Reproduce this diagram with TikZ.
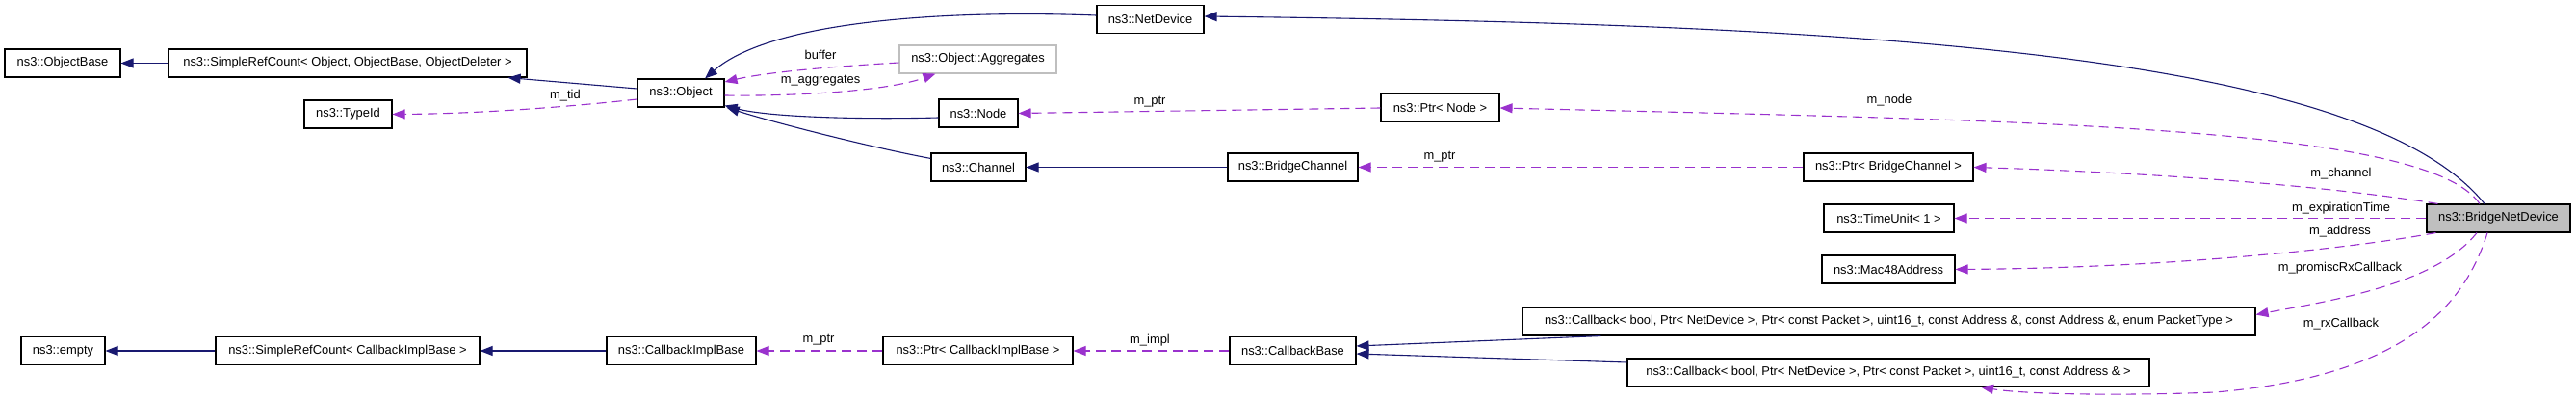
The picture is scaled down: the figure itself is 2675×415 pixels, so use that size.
\documentclass[tikz,border=0pt]{standalone}
\usepackage{fontspec}
\setmainfont{Liberation Sans}
\usetikzlibrary{arrows.meta}
\definecolor{inh}{HTML}{191970}
\definecolor{use}{HTML}{9A32CD}
\definecolor{boxfill}{HTML}{BFBFBF}
\definecolor{grayedge}{HTML}{BFBFBF}
\begin{document}
\begin{tikzpicture}[x=1pt,y=-1pt,font=\fontsize{12.9}{15}\selectfont,
  cls/.style={draw=black,line width=1.1pt,fill=white,minimum height=29pt,inner sep=0pt,anchor=center},
  inhline/.style={draw=inh,line width=1.1pt,-{Triangle[length=13pt,width=10pt]}},
  useline/.style={draw=use,line width=1.1pt,dash pattern=on 10pt off 6pt,-{Triangle[length=13pt,width=10pt]}},
  lbl/.style={inner sep=1pt,anchor=center}]
\useasboundingbox (0,0) rectangle (2675,415);
% nodes
\node[cls,minimum width=120pt] (ob) at (65,65.5) {ns3::ObjectBase};
\node[cls,minimum width=372pt] (src1) at (361,65.5) {ns3::SimpleRefCount< Object, ObjectBase, ObjectDeleter >};
\node[cls,minimum width=91pt] (tid) at (361.5,118.5) {ns3::TypeId};
\node[cls,minimum width=90pt] (obj) at (707,96.5) {ns3::Object};
\node[cls,minimum width=111pt] (nd) at (1194.5,20) {ns3::NetDevice};
\node[cls,draw=grayedge,minimum width=163pt] (agg) at (1015.5,61.5) {ns3::Object::Aggregates};
\node[cls,minimum width=82pt] (node) at (1016,117.5) {ns3::Node};
\node[cls,minimum width=123pt] (pnode) at (1495.5,112) {ns3::Ptr< Node >};
\node[cls,minimum width=98pt] (chan) at (1016,173.5) {ns3::Channel};
\node[cls,minimum width=135pt] (bch) at (1342.5,173.5) {ns3::BridgeChannel};
\node[cls,minimum width=176pt] (pbch) at (1961,173.5) {ns3::Ptr< BridgeChannel >};
\node[cls,minimum width=135pt] (tu) at (1961.5,226.5) {ns3::TimeUnit< 1 >};
\node[cls,minimum width=138pt] (mac) at (1961,279.5) {ns3::Mac48Address};
\node[cls,fill=boxfill,minimum width=149pt] (bnd) at (2594.5,226.5) {ns3::BridgeNetDevice};
\node[cls,minimum width=87pt] (empty) at (65.5,364) {ns3::empty};
\node[cls,minimum width=274pt] (src2) at (361,364) {ns3::SimpleRefCount< CallbackImplBase >};
\node[cls,minimum width=155pt] (cib) at (707.5,364) {ns3::CallbackImplBase};
\node[cls,minimum width=197pt] (pcib) at (1015.5,364) {ns3::Ptr< CallbackImplBase >};
\node[cls,minimum width=131pt] (cb) at (1342.5,364) {ns3::CallbackBase};
\node[cls,minimum width=761pt] (cb1) at (1961.5,333.5) {ns3::Callback< bool, Ptr< NetDevice >, Ptr< const Packet >, uint16\_t, const Address \&, const Address \&, enum PacketType >};
\node[cls,minimum width=542pt] (cb2) at (1961,386.5) {ns3::Callback< bool, Ptr< NetDevice >, Ptr< const Packet >, uint16\_t, const Address \& >};
% inheritance
\draw[inhline] (src1.west) -- (ob.east);
\draw[inhline] ([yshift=4.5pt]obj.west) -- ([xshift=-20pt]src1.south east);
\draw[inhline] ([yshift=4pt]nd.west) .. controls (980,10) and (800,22) .. ([xshift=25pt]obj.north);
\draw[inhline] ([yshift=-4.5pt]node.west) .. controls (900,124) and (800,122) .. ([yshift=-13pt]obj.east);
\draw[inhline] ([yshift=-6pt]chan.north west) .. controls (900,152) and (800,126) .. ([xshift=2pt]obj.south east);
\draw[inhline] (bch.west) -- (chan.east);
\draw[inhline] ([xshift=-14.5pt]bnd.north) .. controls (2450,50) and (1900,25) .. ([yshift=3pt]nd.east);
\draw[inhline] (src2.west) -- (empty.east);
\draw[inhline] (cib.west) -- (src2.east);
\draw[inhline] ([xshift=82pt]cb1.south west) -- ([yshift=5pt]cb.east);
\draw[inhline] ([yshift=10.5pt]cb2.west) -- ([yshift=-3pt]cb.east);
% usage
\draw[useline] ([yshift=-6.5pt]obj.west) .. controls (600,110) and (500,118) .. (tid.east);
\node[lbl] (ltid) at (587,99) {m\_tid};
\draw[useline] ([yshift=-3.5pt]agg.west) .. controls (880,68) and (800,74) .. ([yshift=11.5pt]obj.east);
\node[lbl] (lbuf) at (852,57) {buffer};
\draw[useline] ([yshift=-2.5pt]obj.east) .. controls (820,100) and (920,95) .. ([xshift=38pt]agg.south west);
\node[lbl] (lagg) at (852,84) {m\_aggregates};
\draw[useline] (pnode.west) -- (node.east);
\node[lbl] (lptr1) at (1194,106) {m\_ptr};
\draw[useline] (pbch.west) -- (bch.east);
\node[lbl] (lptr2) at (1495,163) {m\_ptr};
\draw[useline] ([xshift=-19.5pt]bnd.north) .. controls (2520,130) and (2100,125) .. (pnode.east);
\node[lbl] (lnode) at (1962,104) {m\_node};
\draw[useline] ([xshift=12pt]bnd.north west) .. controls (2400,190) and (2200,178) .. (pbch.east);
\node[lbl] (lchan) at (2431,180) {m\_channel};
\draw[useline] (bnd.west) -- (tu.east);
\node[lbl] (lexp) at (2431,216) {m\_expirationTime};
\draw[useline] ([xshift=10pt]bnd.south west) .. controls (2440,258) and (2250,278) .. (mac.east);
\node[lbl] (laddr) at (2430,240) {m\_address};
\draw[useline] ([xshift=-22.5pt]bnd.south) .. controls (2530,295) and (2420,312) .. ([yshift=7pt]cb1.east);
\node[lbl] (lprom) at (2430,278) {m\_promiscRxCallback};
\draw[useline] ([xshift=-11.5pt]bnd.south) .. controls (2560,315) and (2500,390) .. (2300,407) .. controls (2200,411) and (2100,409) .. ([xshift=96pt]cb2.south);
\node[lbl] (lrx) at (2431,336) {m\_rxCallback};
\draw[useline] (pcib.west) -- (cib.east);
\node[lbl] (lptr3) at (850,353) {m\_ptr};
\draw[useline] (cb.west) -- (pcib.east);
\node[lbl] (limpl) at (1194,353) {m\_impl};
\end{tikzpicture}
\end{document}
